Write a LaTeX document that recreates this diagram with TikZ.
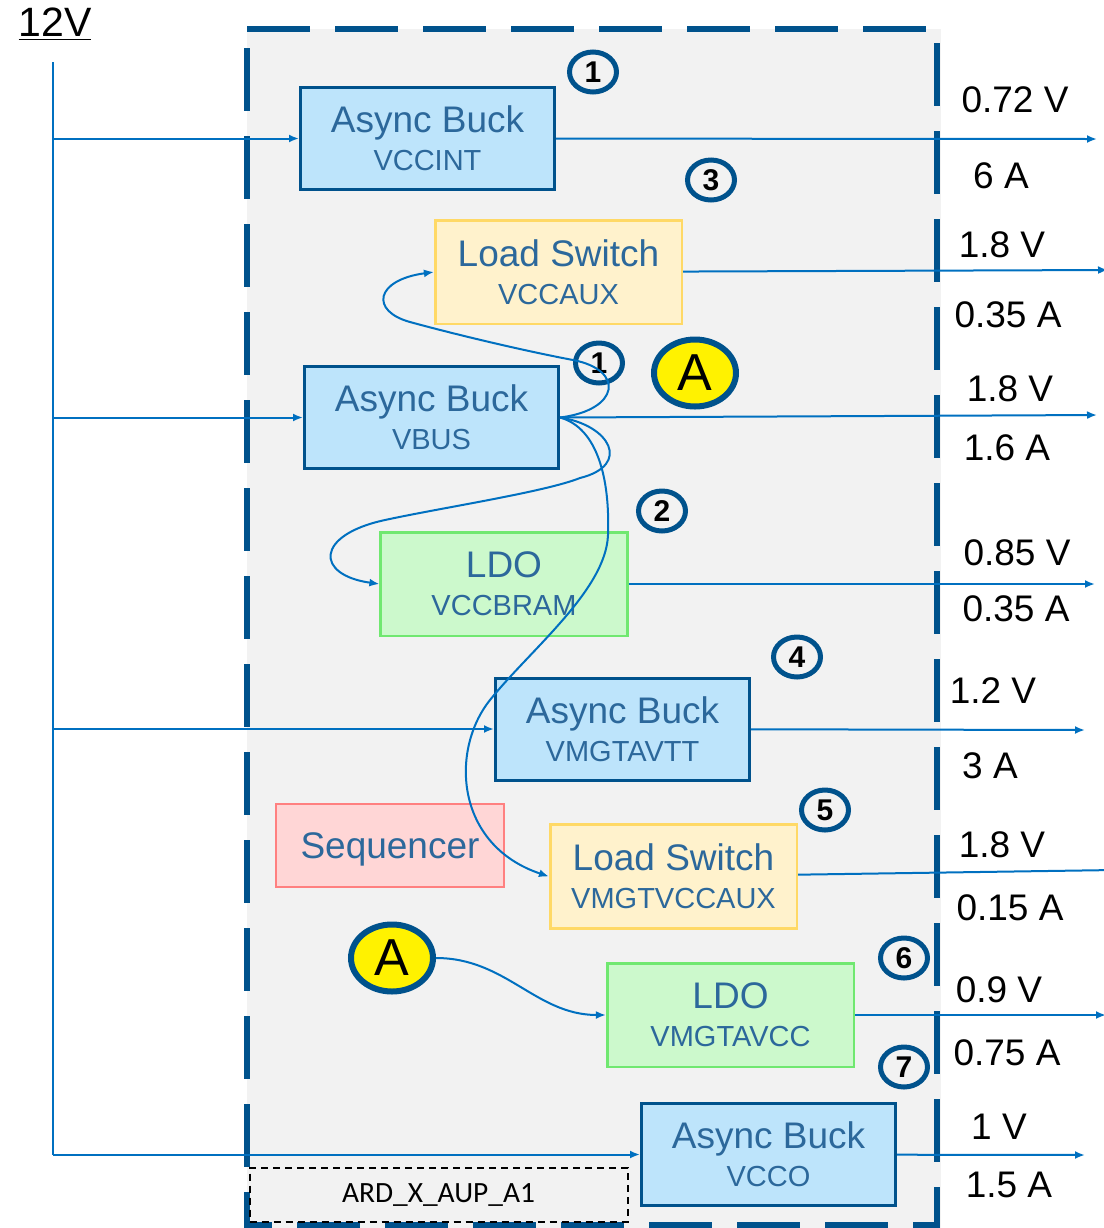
\documentclass[tikz,border=0pt]{standalone}
\usepackage{fontspec}
\setmainfont{Liberation Sans}
\newfontfamily\calfont{Carlito}
\usetikzlibrary{arrows.meta,shapes.geometric}
\definecolor{navy}{RGB}{0,82,140}
\definecolor{wireblue}{RGB}{0,112,192}
\definecolor{boxtext}{RGB}{44,104,155}
\definecolor{buckfill}{RGB}{189,228,251}
\definecolor{swfill}{RGB}{255,242,204}
\definecolor{swline}{RGB}{255,217,102}
\definecolor{ldofill}{RGB}{204,249,204}
\definecolor{ldoline}{RGB}{112,232,112}
\definecolor{seqfill}{RGB}{255,214,214}
\definecolor{seqline}{RGB}{255,128,128}
\definecolor{backgray}{RGB}{242,242,242}
\newcommand{\boxtitle}{\fontsize{18.5}{19}\selectfont}
\newcommand{\boxsub}{\fontsize{14.5}{19}\selectfont}
\begin{document}
\begin{tikzpicture}[x=0.5pt,y=-0.5pt,
    buck/.style={draw=navy,fill=buckfill,line width=1.5pt,minimum width=127pt,
      minimum height=51pt,inner sep=0pt,align=center,text=boxtext,font=\boxtitle},
    loadsw/.style={buck,draw=swline,fill=swfill,line width=1.3pt,
      minimum width=123.3pt,minimum height=51.8pt},
    ldo/.style={loadsw,draw=ldoline,fill=ldofill},
    seq/.style={loadsw,draw=seqline,fill=seqfill,minimum width=114pt,minimum height=41.5pt},
    numring/.style={ellipse,draw=navy,line width=2.5pt,minimum width=23.5pt,
      minimum height=20pt,inner sep=0pt,font=\bfseries\fontsize{15}{15}\selectfont},
    letterring/.style={ellipse,draw=navy,fill=yellow,line width=3pt,minimum width=41pt,
      minimum height=33.5pt,inner sep=0pt,font=\fontsize{26}{26}\selectfont},
    wire/.style={draw=wireblue,line width=1pt,-{Latex[length=5pt,width=4pt]}},
    fenceline/.style={draw=navy,line width=3.4pt,dash pattern=on 31.5pt off 12.5pt}]

  \useasboundingbox (0,0) rectangle (1104,1228);

  % board outline
  \fill[backgray] (247,29) rectangle (941,1228);
  \draw[fenceline] (247,29) -- (940,29);
  \draw[fenceline] (937,43) -- (937,1230);
  \draw[fenceline] (247,48) -- (247,1230);
  \draw[fenceline,dash phase=19pt] (247,1225) -- (940,1225);

  \node[draw,fill=backgray,line width=1pt,dash pattern=on 3.5pt off 2.5pt,
    minimum width=189pt,minimum height=27pt,inner sep=0pt,font=\calfont\fontsize{14.7}{15}\selectfont]
    (ard) at (438.5,1194.5) {ARD\_X\_AUP\_A1};

  \node[font=\fontsize{20.5}{21}\selectfont] (v12) at (55,24) {\underline{12V}};
  \coordinate (top) at (53,62);

  % regulators
  \node[buck]   (1) at (427.5,138.5) {Async Buck\\{\boxsub VCCINT}};
  \node[loadsw] (2) at (558.5,272)   {Load Switch\\{\boxsub VCCAUX}};
  \node[buck]   (3) at (431.5,417.5) {Async Buck\\{\boxsub VBUS}};
  \node[ldo]    (4) at (504,584)     {LDO\\{\boxsub VCCBRAM}};
  \node[buck]   (5) at (622.5,729)   {Async Buck\\{\boxsub VMGTAVTT}};
  \node[seq,text depth=0pt] (6) at (390,845.5) {Sequencer};
  \node[loadsw] (7) at (673.5,876.5) {Load Switch\\{\boxsub VMGTVCCAUX}};
  \node[ldo]    (8) at (730.5,1015)  {LDO\\{\boxsub VMGTAVCC}};
  \node[buck]   (9) at (768.5,1154.5) {Async Buck\\{\boxsub VCCO}};

  % sequence numbers
  \node[numring] (n1)  at (593,72)   {1};
  \node[numring] (n3)  at (711,180)  {3};
  \node[numring] (n1b) at (599,363)  {1};
  \node[numring] (n2)  at (662,511)  {2};
  \node[numring] (n4)  at (797,657)  {4};
  \node[numring] (n5)  at (825,810)  {5};
  \node[numring] (n6)  at (904,958)  {6};
  \node[numring] (n7)  at (904,1067) {7};

  \node[letterring] (a1) at (695,373) {A};
  \node[letterring] (a2) at (392,958) {A};

  % output ratings
  \begin{scope}[every node/.style={font=\boxtitle}]
    \node (v1) at (1015,100)  {0.72 V};
    \node (i1) at (1001,176)  {6 A};
    \node (v2) at (1002,245)  {1.8 V};
    \node (i2) at (1008,315)  {0.35 A};
    \node (v3) at (1010,389)  {1.8 V};
    \node (i3) at (1007,448)  {1.6 A};
    \node (v4) at (1017,553)  {0.85 V};
    \node (i4) at (1016,609)  {0.35 A};
    \node (v5) at (993,691)   {1.2 V};
    \node (i5) at (990,766)   {3 A};
    \node (v6) at (1002,845)  {1.8 V};
    \node (i6) at (1010,908)  {0.15 A};
    \node (v7) at (999,990)   {0.9 V};
    \node (i7) at (1007,1053) {0.75 A};
    \node (v8) at (999,1127)  {1 V};
    \node (i8) at (1009,1185) {1.5 A};
  \end{scope}

  \coordinate (o1) at (1097,139);
  \coordinate (o2) at (1108,270);
  \coordinate (o3) at (1097,415);
  \coordinate (o4) at (1095,584);
  \coordinate (o5) at (1085,730);
  \coordinate (o6) at (1115,870);
  \coordinate (o7) at (1106,1015);
  \coordinate (o8) at (1085,1155);

  \draw[wireblue,line width=1pt] (top) -- (9.west -| top);

  \begin{scope}[every edge/.style={wire}]
    \path (1.west -| top) edge (1);
    \path (3.west -| top) edge (3);
    \path (5.west -| top) edge (5);
    \path (9.west -| top) edge (9);

    \path (1) edge (o1);
    \path (2) edge (o2);
    \path (3.east) edge (o3);
    \path (4) edge (o4);
    \path (5) edge (o5);
    \path (7) edge (o6);
    \path (8) edge (o7);
    \path (9) edge (o8);
  \end{scope}

  % enable paths from VBUS
  \draw[wire] (3.east) .. controls (620,410) and (625,370) .. (573,360)
    .. controls (520,350) and (450,333) .. (410,322)
    .. controls (370,311) and (375,280) .. (2.west);
  \draw[wire] (3.east) .. controls (610,425) and (632,465) .. (580,478)
    .. controls (545,492) and (440,508) .. (385,520)
    .. controls (315,535) and (315,575) .. (4.west);
  \draw[wire] (3.east) .. controls (598,428) and (610,480) .. (608,535)
    .. controls (606,590) and (530,650) .. (490,700)
    .. controls (450,750) and (455,845) .. (7.west);
  \draw[wire] (a2.east) to[out=0,in=180] (8.west);

\end{tikzpicture}
\end{document}
